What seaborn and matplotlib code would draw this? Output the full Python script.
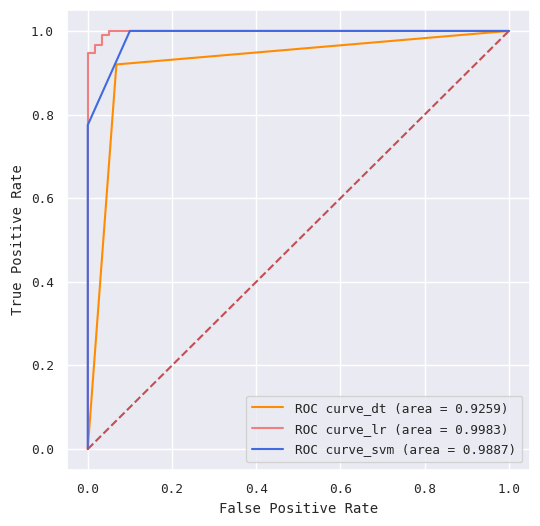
import numpy as np
import pandas as pd
import matplotlib
matplotlib.use("Agg")
import matplotlib.pyplot as plt
import seaborn as sns

# ROC curve data
fpr_dt = [0.0, 0.068, 1.0]
tpr_dt = [0.0, 0.9198, 1.0]
fpr_lr = [0.0, 0.0, 0.0167, 0.0167, 0.0333, 0.0333, 0.05, 0.05, 1.0]
tpr_lr = [0.0, 0.946, 0.946, 0.966, 0.966, 0.991, 0.991, 1.0, 1.0]
fpr_svm = [0.0, 0.0, 0.1, 1.0]
tpr_svm = [0.0, 0.775, 1.0, 1.0]
labels = ["ROC curve_dt (area = 0.9259)",
          "ROC curve_lr (area = 0.9983)",
          "ROC curve_svm (area = 0.9887)"]
colors = ["darkorange", "lightcoral", "royalblue"]
ticks = [0.0, 0.2, 0.4, 0.6, 0.8, 1.0]
tick_labels = ["0.0", "0.2", "0.4", "0.6", "0.8", "1.0"]

sns.set_theme(context="notebook", style="darkgrid", color_codes=True)
plt.rcParams["font.family"] = ["DejaVu Sans Mono", "DejaVu Sans"]
tick_fs = 9.2
lab_fs = 10.0
scale = 11 / tick_fs

fig = plt.figure(figsize=(5.4, 5.26), dpi=100)
W, H = 540, 526
ax = fig.add_axes([66.7 / W, 1 - 470 / H, (530 - 66.7) / W, (470 - 10) / H])

frames = []
for f, t, lab in zip([fpr_dt, fpr_lr, fpr_svm], [tpr_dt, tpr_lr, tpr_svm], labels):
    frames.append(pd.DataFrame({"fpr": f, "tpr": t, "model": lab}))
df = pd.concat(frames, ignore_index=True)

sns.lineplot(data=df, x="fpr", y="tpr", hue="model", palette=colors,
             sort=False, estimator=None, ax=ax, linewidth=1.5)
ax.plot([0, 1], [0, 1], "r--", linewidth=1.5)

ax.set_xlim(-0.05, 1.05)
ax.set_ylim(-0.05, 1.05)
ax.set_xticks(ticks)
ax.set_yticks(ticks)
ax.set_xticklabels(tick_labels, fontsize=tick_fs)
ax.set_yticklabels(tick_labels, fontsize=tick_fs)
ax.set_xlabel("False Positive Rate", fontsize=lab_fs)
ax.set_ylabel("True Positive Rate", fontsize=lab_fs)

ax.legend(loc="lower right", fontsize=tick_fs, title=None,
          handlelength=2.0 * scale, handletextpad=0.8 * scale,
          borderpad=0.4 * scale, labelspacing=0.5 * scale,
          borderaxespad=0.5 * scale)

fig.savefig("out.png", dpi=100)
